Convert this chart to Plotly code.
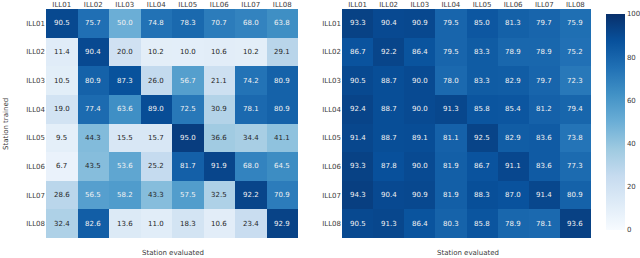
import plotly.graph_objects as go

stations = ["ILL01", "ILL02", "ILL03", "ILL04", "ILL05", "ILL06", "ILL07", "ILL08"]

left_values = [
    [90.5, 75.7, 50.0, 74.8, 78.3, 70.7, 68.0, 63.8],
    [11.4, 90.4, 20.0, 10.2, 10.0, 10.6, 10.2, 29.1],
    [10.5, 80.9, 87.3, 26.0, 56.7, 21.1, 74.2, 80.9],
    [19.0, 77.4, 63.6, 89.0, 72.5, 30.9, 78.1, 80.9],
    [9.5, 44.3, 15.5, 15.7, 95.0, 36.6, 34.4, 41.1],
    [6.7, 43.5, 53.6, 25.2, 81.7, 91.9, 68.0, 64.5],
    [28.6, 56.5, 58.2, 43.3, 57.5, 32.5, 92.2, 70.9],
    [32.4, 82.6, 13.6, 11.0, 18.3, 10.6, 23.4, 92.9],
]

right_values = [
    [93.3, 90.4, 90.9, 79.5, 85.0, 81.3, 79.7, 75.9],
    [86.7, 92.2, 86.4, 79.5, 83.3, 78.9, 78.9, 75.2],
    [90.5, 88.7, 90.0, 78.0, 83.3, 82.9, 79.7, 72.3],
    [92.4, 88.7, 90.0, 91.3, 85.8, 85.4, 81.2, 79.4],
    [91.4, 88.7, 89.1, 81.1, 92.5, 82.9, 83.6, 73.8],
    [93.3, 87.8, 90.0, 81.9, 86.7, 91.1, 83.6, 77.3],
    [94.3, 90.4, 90.9, 81.9, 88.3, 87.0, 91.4, 80.9],
    [90.5, 91.3, 86.4, 80.3, 85.8, 78.9, 78.1, 93.6],
]

colorbar_ticks = [0, 20, 40, 60, 80, 100]

FONT = "DejaVu Sans"
TICK_COLOR = "#3a3a3a"
FS = 7

fig = go.Figure()

fig.add_trace(go.Heatmap(
    z=left_values, x=stations, y=stations, xaxis="x", yaxis="y",
    colorscale="Blues", zmin=0, zmax=100, showscale=False,
))
fig.add_trace(go.Heatmap(
    z=right_values, x=stations, y=stations, xaxis="x2", yaxis="y2",
    colorscale="Blues", zmin=0, zmax=100, showscale=True,
    colorbar=dict(
        x=606 / 640, xanchor="left", thickness=19,
        y=1 - 122 / 258, yanchor="middle", len=216 / 258,
        tickvals=colorbar_ticks, ticks="",
        tickfont=dict(family=FONT, size=FS, color=TICK_COLOR),
        outlinewidth=0, xpad=0, ypad=0,
    ),
))

annotations = []
for vals, xr, yr in [(left_values, "x", "y"), (right_values, "x2", "y2")]:
    for i, row in enumerate(vals):
        for j, v in enumerate(row):
            annotations.append(dict(
                x=stations[j], y=stations[i], xref=xr, yref=yr,
                text=f"{v:.1f}", showarrow=False,
                font=dict(family=FONT, size=FS,
                          color="#f2f2f2" if v >= 48 else "#262626"),
            ))

annotations.append(dict(x=173 / 640, y=1 - 253 / 258, xref="paper", yref="paper",
                        text="Station evaluated", showarrow=False,
                        xanchor="center", yanchor="middle",
                        font=dict(family=FONT, size=FS, color=TICK_COLOR)))
annotations.append(dict(x=468 / 640, y=1 - 253 / 258, xref="paper", yref="paper",
                        text="Station evaluated", showarrow=False,
                        xanchor="center", yanchor="middle",
                        font=dict(family=FONT, size=FS, color=TICK_COLOR)))
annotations.append(dict(x=6 / 640, y=1 - 124 / 258, xref="paper", yref="paper",
                        text="Station trained", showarrow=False, textangle=-90,
                        xanchor="center", yanchor="middle",
                        font=dict(family=FONT, size=FS, color=TICK_COLOR)))

top = 1 - 9 / 258
bottom = 1 - 238 / 258

axis_common = dict(showgrid=False, zeroline=False, showline=False,
                   tickfont=dict(family=FONT, size=FS, color=TICK_COLOR),
                   ticks="", type="category", automargin=False)

fig.update_layout(
    width=640, height=258,
    margin=dict(l=0, r=0, t=0, b=0),
    paper_bgcolor="white", plot_bgcolor="white",
    xaxis=dict(domain=[46 / 640, 298 / 640], side="top", anchor="y", **axis_common),
    yaxis=dict(domain=[bottom, top], autorange="reversed", anchor="x", **axis_common),
    xaxis2=dict(domain=[342 / 640, 591 / 640], side="top", anchor="y2", **axis_common),
    yaxis2=dict(domain=[bottom, top], autorange="reversed", anchor="x2", **axis_common),
    annotations=annotations,
)

fig.write_html(
    "out.html",
    config={"displayModeBar": False},
    post_script="document.body.style.margin='0';document.body.style.overflow='hidden';",
)
